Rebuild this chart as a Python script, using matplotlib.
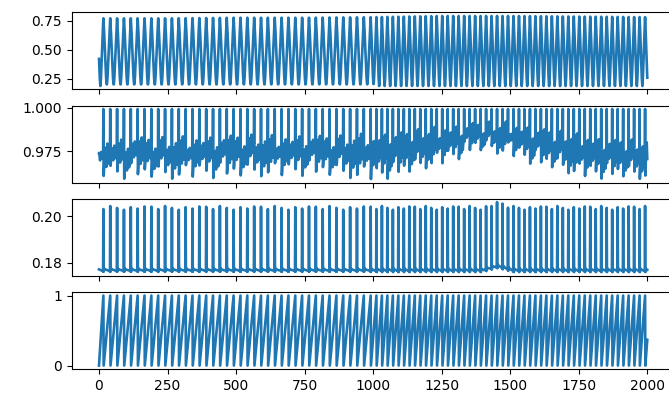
import numpy as np
import matplotlib
matplotlib.use('Agg')
import matplotlib.pyplot as plt

# timing of the spikes
pre_peak = -6
peak_first = 16
period_a, n_a = 25, 40
switch_peak = 1012
period_b, n_b = 20, 50
t_end = 2000

# one cycle, phase 0 = just after a spike, 1 = next spike
p1_phase = [0.0, 0.1, 0.25, 0.4, 0.5, 0.6, 0.75, 0.9, 1.0]
p1_shape = [1.0, 0.82, 0.45, 0.12, 0.0, 0.12, 0.45, 0.82, 1.0]
p2_phase = [0.0, 0.06, 0.15, 0.3, 0.45, 0.6, 0.75, 0.9, 1.0]
p2_shape = [0.0, 0.0, 0.45, 0.8, 0.2, 0.85, 0.3, 0.7, 0.5]
p3_phase = [0.0, 0.05, 0.1, 0.3, 0.6, 0.9, 0.96, 1.0]
p3_shape = [0.0, -0.0008, 0.0008, 0.0003, 0.0, -0.0002, -0.0006, 0.0]

# slow envelopes
env_t = [0, 250, 500, 750, 1000, 1250, 1500, 1750, 2000]
p1_peak = [0.77, 0.77, 0.775, 0.775, 0.78, 0.79, 0.79, 0.785, 0.78]
p1_trough = [0.19, 0.19, 0.19, 0.19, 0.19, 0.19, 0.19, 0.19, 0.19]

band_t = [0, 125, 250, 375, 500, 625, 750, 875, 1000, 1125, 1250, 1375, 1500, 1625, 1750, 1875, 2000]
p2_low = [0.963, 0.962, 0.961, 0.963, 0.962, 0.963, 0.964, 0.962, 0.961, 0.964, 0.970, 0.977, 0.975,
          0.968, 0.963, 0.962, 0.961]
p2_high = [0.982, 0.985, 0.984, 0.985, 0.986, 0.985, 0.986, 0.985, 0.987, 0.988, 0.990, 0.992, 0.992,
           0.989, 0.986, 0.983, 0.982]
p2_jitter = [0.0, 0.005, -0.002, 0.004, 0.001, -0.003, 0.006, 0.0, 0.003, -0.001, 0.005, 0.002, -0.002]
p2_spike = 0.9993

p3_t = [0, 1400, 1430, 1455, 1480, 1510, 2000]
p3_base = [0.1768, 0.1768, 0.1778, 0.1785, 0.1778, 0.1768, 0.1768]
p3_peak = [0.2035, 0.2035, 0.2045, 0.2055, 0.2045, 0.2035, 0.2035]
p3_jitter = [0.0005, -0.0005, 0.0008, 0.0, -0.0008, 0.0003, -0.0003, 0.0006]

peaks = np.concatenate([peak_first + period_a * np.arange(n_a),
                        switch_peak + period_b * np.arange(n_b)])
t = np.arange(t_end + 1)
ext = np.concatenate([[pre_peak], peaks, [peaks[-1] + period_b]])
k = np.searchsorted(ext, t, side='left')
prev, nxt = ext[k - 1], ext[k]
phase = (t - prev) / (nxt - prev)
is_peak = np.isin(t, peaks)

lo1 = np.interp(t, env_t, p1_trough)
hi1 = np.interp(t, env_t, p1_peak)
y1 = lo1 + np.interp(phase, p1_phase, p1_shape) * (hi1 - lo1)

lo2 = np.interp(t, band_t, p2_low) + np.array(p2_jitter)[k % len(p2_jitter)]
hi2 = np.interp(t, band_t, p2_high) - np.array(p2_jitter)[(k + 5) % len(p2_jitter)]
y2 = lo2 + np.interp(phase, p2_phase, p2_shape) * (hi2 - lo2)
y2[is_peak] = p2_spike

y3 = np.interp(t, p3_t, p3_base) + np.interp(phase, p3_phase, p3_shape)
pk3 = np.interp(t, p3_t, p3_peak) + np.array(p3_jitter)[k % len(p3_jitter)]
y3[is_peak] = pk3[is_peak]

prev4 = prev.copy()
prev4[k == 1] = -1
y4 = (t - prev4 - 1) / (nxt - prev4 - 1)

fig, axes = plt.subplots(4, 1, sharex=True, figsize=(6.69, 3.96), dpi=100)
bottoms = [0.774, 0.539, 0.304, 0.068]
for ax, b, y in zip(axes, bottoms, [y1, y2, y3, y4]):
    ax.set_position([0.107, b, 0.9015, 0.1945])
    ax.plot(t, y, lw=1.9)

plt.savefig('out.png')
